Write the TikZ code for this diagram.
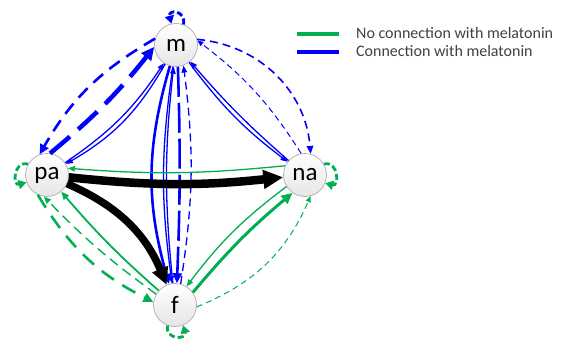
\documentclass[tikz,border=0pt]{standalone}
\usepackage{fontspec}
\setmainfont{Carlito}
\usetikzlibrary{arrows.meta}
\definecolor{grn}{RGB}{0,176,80}
\definecolor{blu}{RGB}{0,0,255}
\definecolor{txt}{RGB}{64,64,64}
\begin{document}
\begin{tikzpicture}[x=1pt,y=-1pt,
  vertex/.style={circle, draw=gray!65, line width=0.7pt, top color=white, bottom color=gray!20,
    minimum size=43pt, inner sep=0pt, font=\fontsize{25}{25}\selectfont},
  thinln/.style={line width=1.3pt, -{Triangle[length=7pt,width=5.5pt]}},
  midln/.style={line width=2.6pt, -{Triangle[length=10pt,width=9pt]}},
  bigln/.style={line width=4.5pt, -{Triangle[length=13pt,width=12pt]}},
  blackln/.style={line width=8.5pt, -{Triangle[length=20pt,width=18pt]}},
  loopln/.style={line width=2.8pt, dash pattern=on 6pt off 3pt, -{Triangle[length=8pt,width=9pt]}},
  legtext/.style={anchor=base west, inner sep=0pt, text=txt, font=\fontsize{16}{16}\selectfont}
]
\useasboundingbox (0,0) rectangle (565,342);

\node[vertex] (m)  at (176,45)  {m};
\node[vertex] (pa) at (47,175)  {pa};
\node[vertex] (na) at (305,175) {na};
\node[vertex] (f)  at (175,305) {f};

% ---- m - pa (blue)
\draw[blu, midln, dash pattern=on 13pt off 8pt] (m.163) to[bend right=15] (pa.110);
\draw[blu, bigln, dash pattern=on 26pt off 11pt] (pa.82) to[bend right=6] (m.185);
\draw[blu, thinln] (pa) to[bend right=11] (m);
\draw[blu, thinln] (m) to[bend left=15] (pa);

% ---- m - f (blue)
\draw[blu, midln] (m) to[bend right=16] (f);
\draw[blu, thinln] (m) to[bend right=8] (f);
\draw[blu, thinln] (f) to[bend left=6] (m);
\draw[blu, midln, dash pattern=on 30pt off 6pt] (m.275) to[bend left=2] (f.85);
\draw[blu, thinln, dash pattern=on 8pt off 5pt] (f.75) to[bend right=8] (m.290);

% ---- m - na (blue)
\draw[blu, thinln] (m) to[bend right=8] (na);
\draw[blu, thinln] (na) to[bend left=4] (m);
\draw[blu, line width=1.6pt, dash pattern=on 8pt off 5pt, -{Triangle[length=8pt,width=6.5pt]}] (m.15) to[bend left=40] (na.75);
\draw[blu, line width=1pt, dash pattern=on 6pt off 4pt, -{Triangle[length=6pt,width=5pt]}] (na.100) to[bend right=10] (m.12);

% ---- pa - na
\draw[grn, thinln] (na.155) to[bend left=5] (pa.18);
\draw[black, blackln] (pa) to[bend right=6] (na);

% ---- pa - f
\draw[black, line width=7.5pt, -{Triangle[length=17pt,width=16pt]}] (pa) to[bend left=22] (f);
\draw[grn, line width=1.8pt, -{Triangle[length=8pt,width=6.5pt]}] (f) to[bend left=4] (pa);
\draw[grn, line width=1.4pt, dash pattern=on 10pt off 6pt, -{Triangle[length=7pt,width=6pt]}] (f.150) to[bend left=5] (pa.262);
\draw[grn, midln, dash pattern=on 15pt off 10pt] (pa.245) to[bend right=16] (f.172);

% ---- na - f
\draw[grn, thinln] (na.212) to[bend right=8] (f.58);
\draw[grn, line width=3pt, -{Triangle[length=11pt,width=10pt]}] (f.35) to[bend left=5] (na.235);
\draw[grn, line width=1pt, dash pattern=on 6pt off 4pt, -{Triangle[length=6pt,width=5pt]}] (f.-5) to[bend right=22] (na.-75);

% ---- self loops
\draw[blu, loopln] (m.70) to[out=80,in=105,distance=15pt] (m.102);
\draw[grn, loopln] (pa.150) to[out=165,in=195,distance=15pt] (pa.200);
\draw[grn, loopln] (na.30) to[out=15,in=-15,distance=15pt] (na.-22);
\draw[grn, loopln] (f.250) to[out=260,in=285,distance=15pt] (f.292);

% ---- legend
\coordinate (g1) at (297,34); \coordinate (g2) at (339,34);
\coordinate (b1) at (297,52); \coordinate (b2) at (339,52);
\draw[grn, line width=4pt] (g1) -- (g2);
\draw[blu, line width=4pt] (b1) -- (b2);
\node[legtext] (lg) at (356,38.5) {No connection with melatonin};
\node[legtext] (lb) at (356,56.5) {Connection with melatonin};
\end{tikzpicture}
\end{document}
